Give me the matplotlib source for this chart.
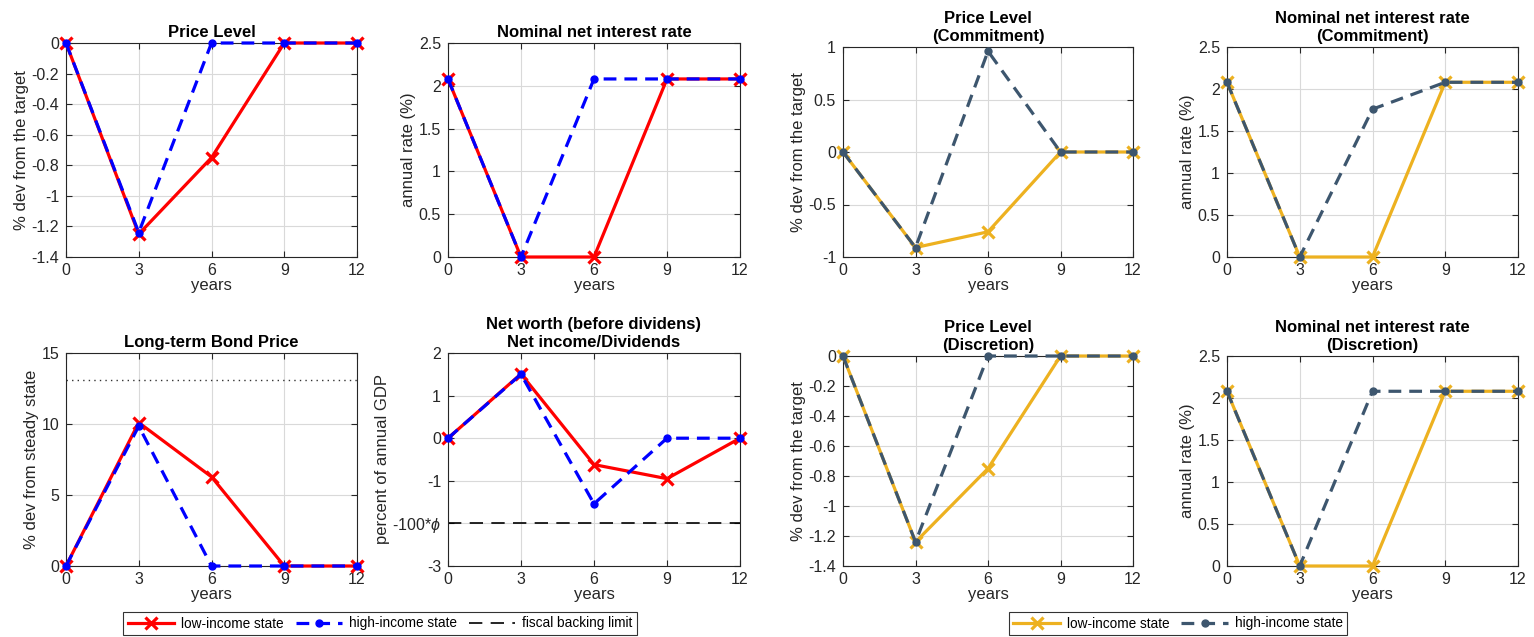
import matplotlib
matplotlib.use("Agg")
import matplotlib.pyplot as plt
from matplotlib.lines import Line2D

plt.rcParams['font.family'] = ['Liberation Sans', 'DejaVu Sans']
plt.rcParams['mathtext.fontset'] = 'custom'
plt.rcParams['mathtext.it'] = 'Liberation Sans:italic'

years = [0, 3, 6, 9, 12]
xticks = [0, 3, 6, 9, 12]

# Left block (red / blue)
price_low = [0, -1.25, -0.75, 0, 0]
price_high = [0, -1.24, 0, 0, 0]
rate_low = [2.08, 0, 0, 2.08, 2.08]
rate_high = [2.08, 0, 2.08, 2.08, 2.08]
bond_low = [0, 10.1, 6.28, 0, 0]
bond_high = [0, 9.85, 0, 0, 0]
bond_ref = 13.1
nw_low = [0, 1.51, -0.62, -0.95, 0]
nw_high = [0, 1.5, -1.54, 0, 0]
nw_limit = -2
nw_yticks = [-3, -2, -1, 0, 1, 2]
nw_yticklabels = ['-3', '-100*$\\phi$', '-1', '0', '1', '2']

# Right block (yellow / slate)
pc_low = [0, -0.91, -0.76, 0, 0]
pc_high = [0, -0.91, 0.96, 0, 0]
rc_low = [2.08, 0, 0, 2.08, 2.08]
rc_high = [2.08, 0, 1.76, 2.08, 2.08]
pd_low = [0, -1.24, -0.75, 0, 0]
pd_high = [0, -1.24, 0, 0, 0]
rd_low = [2.08, 0, 0, 2.08, 2.08]
rd_high = [2.08, 0, 2.08, 2.08, 2.08]

RED = '#ff0000'
BLUE = '#0000ff'
YEL = '#EDB120'
SLATE = '#3d566e'
AXC = '#262626'

TICK_FS = 11.5
LAB_FS = 12
TITLE_FS = 12

W, H = 1534, 637
fig = plt.figure(figsize=(W / 100, H / 100), dpi=100)


def make_ax(x0, x1, ytop, ybot):
    ax = fig.add_axes([x0 / W, 1 - ybot / H, (x1 - x0) / W, (ybot - ytop) / H])
    for s in ax.spines.values():
        s.set_color(AXC)
        s.set_linewidth(0.8)
    ax.tick_params(direction='in', length=4, width=0.8, colors=AXC,
                   labelsize=TICK_FS, top=True, right=True)
    ax.tick_params(axis='x', pad=4)
    ax.tick_params(axis='y', pad=5)
    ax.grid(True, color='#d9d9d9', linewidth=0.8)
    ax.set_axisbelow(True)
    ax.set_xlim(0, 12)
    ax.set_xticks(xticks)
    ax.set_xlabel('years', fontsize=LAB_FS, color=AXC, labelpad=0)
    return ax


def plot_pair(ax, low, high, clow, chigh):
    ax.plot(years, low, color=clow, lw=2.3, marker='x', ms=9, mew=2.3,
            clip_on=False, zorder=3)
    ax.plot(years, high, color=chigh, lw=2.3, ls=(0, (4, 2.5)), marker='o',
            ms=5, clip_on=False, zorder=4)


def title(ax, t):
    ax.set_title(t, fontsize=TITLE_FS, fontweight='bold', pad=4, linespacing=1.3)


def ylab(ax, t):
    ax.set_ylabel(t, fontsize=LAB_FS, color=AXC, labelpad=2)


# Column x ranges
C1 = (66, 357)
C2 = (448, 740)
C3 = (843, 1133)
C4 = (1227, 1518)

# Panel 1
ax = make_ax(*C1, 43, 257)
plot_pair(ax, price_low, price_high, RED, BLUE)
ax.set_ylim(-1.4, 0)
ax.set_yticks([-1.4, -1.2, -1, -0.8, -0.6, -0.4, -0.2, 0])
ax.set_yticklabels(['-1.4', '-1.2', '-1', '-0.8', '-0.6', '-0.4', '-0.2', '0'])
ylab(ax, '% dev from the target')
title(ax, 'Price Level')

# Panel 2
ax = make_ax(*C2, 43, 257)
plot_pair(ax, rate_low, rate_high, RED, BLUE)
ax.set_ylim(0, 2.5)
ax.set_yticks([0, 0.5, 1, 1.5, 2, 2.5])
ax.set_yticklabels(['0', '0.5', '1', '1.5', '2', '2.5'])
ylab(ax, 'annual rate (%)')
title(ax, 'Nominal net interest rate')

# Panel 5
ax = make_ax(*C1, 353, 566)
ax.axhline(bond_ref, color='#333333', lw=1, ls=(0, (1, 3)))
plot_pair(ax, bond_low, bond_high, RED, BLUE)
ax.set_ylim(0, 15)
ax.set_yticks([0, 5, 10, 15])
ylab(ax, '% dev from steady state')
title(ax, 'Long-term Bond Price')

# Panel 6
ax = make_ax(*C2, 353, 566)
ax.axhline(nw_limit, color='black', lw=1.2, ls=(0, (8, 5)))
plot_pair(ax, nw_low, nw_high, RED, BLUE)
ax.set_ylim(-3, 2)
ax.set_yticks(nw_yticks)
ax.set_yticklabels(nw_yticklabels)
ylab(ax, 'percent of annual GDP')
title(ax, 'Net worth (before dividens)\nNet income/Dividends')

# Panel 3
ax = make_ax(*C3, 47, 257)
plot_pair(ax, pc_low, pc_high, YEL, SLATE)
ax.set_ylim(-1, 1)
ax.set_yticks([-1, -0.5, 0, 0.5, 1])
ax.set_yticklabels(['-1', '-0.5', '0', '0.5', '1'])
ylab(ax, '% dev from the target')
title(ax, 'Price Level\n(Commitment)')

# Panel 4
ax = make_ax(*C4, 47, 257)
plot_pair(ax, rc_low, rc_high, YEL, SLATE)
ax.set_ylim(0, 2.5)
ax.set_yticks([0, 0.5, 1, 1.5, 2, 2.5])
ax.set_yticklabels(['0', '0.5', '1', '1.5', '2', '2.5'])
ylab(ax, 'annual rate (%)')
title(ax, 'Nominal net interest rate\n(Commitment)')

# Panel 7
ax = make_ax(*C3, 356, 566)
plot_pair(ax, pd_low, pd_high, YEL, SLATE)
ax.set_ylim(-1.4, 0)
ax.set_yticks([-1.4, -1.2, -1, -0.8, -0.6, -0.4, -0.2, 0])
ax.set_yticklabels(['-1.4', '-1.2', '-1', '-0.8', '-0.6', '-0.4', '-0.2', '0'])
ylab(ax, '% dev from the target')
title(ax, 'Price Level\n(Discretion)')

# Panel 8
ax = make_ax(*C4, 356, 566)
plot_pair(ax, rd_low, rd_high, YEL, SLATE)
ax.set_ylim(0, 2.5)
ax.set_yticks([0, 0.5, 1, 1.5, 2, 2.5])
ax.set_yticklabels(['0', '0.5', '1', '1.5', '2', '2.5'])
ylab(ax, 'annual rate (%)')
title(ax, 'Nominal net interest rate\n(Discretion)')

# Legends
LEG_FS = 9.8
h1 = [Line2D([], [], color=RED, lw=2.3, marker='x', ms=9, mew=2.3),
      Line2D([], [], color=BLUE, lw=2.3, ls=(0, (4, 2.5)), marker='o', ms=5),
      Line2D([], [], color='black', lw=1.2, ls=(0, (8, 5)))]
leg1 = fig.legend(h1, ['low-income state', 'high-income state', 'fiscal backing limit'],
                  loc='center', bbox_to_anchor=(380 / W, 1 - 623.5 / H), ncol=3,
                  fontsize=LEG_FS, frameon=True, fancybox=False, edgecolor='black',
                  handlelength=3.4, handletextpad=0.5, columnspacing=0.9,
                  borderpad=0.35, numpoints=1)
leg1.get_frame().set_linewidth(0.8)

h2 = [Line2D([], [], color=YEL, lw=2.3, marker='x', ms=9, mew=2.3),
      Line2D([], [], color=SLATE, lw=2.3, ls=(0, (4, 2.5)), marker='o', ms=5)]
leg2 = fig.legend(h2, ['low-income state', 'high-income state'],
                  loc='center', bbox_to_anchor=(1178 / W, 1 - 623.5 / H), ncol=2,
                  fontsize=LEG_FS, frameon=True, fancybox=False, edgecolor='black',
                  handlelength=3.4, handletextpad=0.5, columnspacing=0.9,
                  borderpad=0.35, numpoints=1)
leg2.get_frame().set_linewidth(0.8)

fig.savefig('out.png', dpi=100, facecolor='white')
